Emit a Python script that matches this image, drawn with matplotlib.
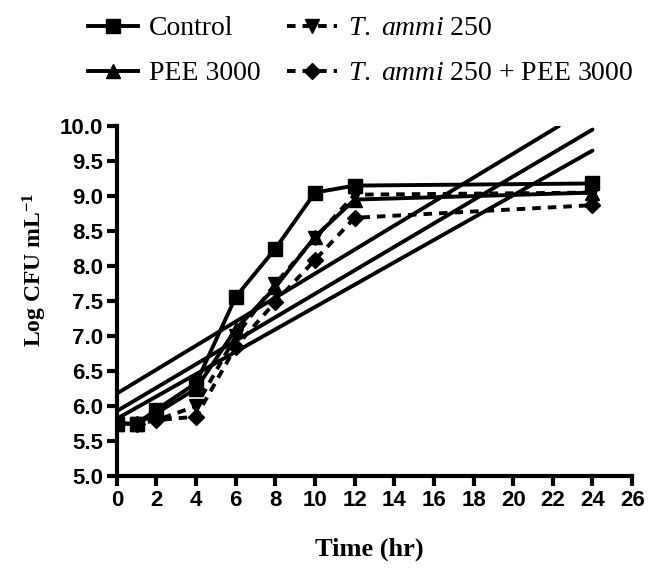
import matplotlib
matplotlib.use("Agg")
import matplotlib.pyplot as plt

plt.rcParams['mathtext.fontset'] = 'custom'
plt.rcParams['mathtext.rm'] = 'Liberation Serif'
plt.rcParams['mathtext.it'] = 'Liberation Serif:italic'
plt.rcParams['mathtext.bf'] = 'Liberation Serif:bold'

time_hr = [0, 1, 2, 4, 6, 8, 10, 12, 24]
control = [5.75, 5.75, 5.95, 6.33, 7.56, 8.25, 9.05, 9.15, 9.18]
pee_3000 = [5.75, 5.75, 5.9, 6.25, 7.1, 7.7, 8.42, 8.95, 9.05]
t_ammi_250 = [5.75, 5.75, 5.8, 6.0, 7.0, 7.75, 8.4, 9.02, 9.05]
t_ammi_pee = [5.75, 5.75, 5.8, 5.85, 6.85, 7.49, 8.09, 8.69, 8.87]

# straight fit lines: start time, end time, start value, end value
trend_t0 = [0, 0, 0]
trend_t1 = [22.3, 24, 24]
trend_v0 = [6.18, 5.93, 5.82]
trend_v1 = [10.0, 9.95, 9.65]

x_ticks = list(range(0, 27, 2))
y_ticks = [5.0, 5.5, 6.0, 6.5, 7.0, 7.5, 8.0, 8.5, 9.0, 9.5, 10.0]

fig = plt.figure(figsize=(6.64, 5.73), dpi=100)
ax = fig.add_axes([0.176, 0.169, 0.776, 0.611])

lw = 2.8
for a, b, c, d in zip(trend_t0, trend_t1, trend_v0, trend_v1):
    ax.plot([a, b], [c, d], color='black', lw=lw, solid_capstyle='round', zorder=2)

h1, = ax.plot(time_hr, control, color='black', lw=lw, marker='s', ms=10, label='Control', zorder=4)
h2, = ax.plot(time_hr, pee_3000, color='black', lw=lw, marker='^', ms=10, label='PEE 3000', zorder=3)
h3, = ax.plot(time_hr, t_ammi_250, color='black', lw=lw, ls=(0, (2.2, 1.8)), marker='v', ms=10,
              label=r'$\mathit{T.\ ammi}$ 250', zorder=3)
h4, = ax.plot(time_hr, t_ammi_pee, color='black', lw=lw, ls=(0, (2.2, 1.8)), marker='D', ms=8,
              label=r'$\mathit{T.\ ammi}$ 250 + PEE 3000', zorder=3)

ax.set_xlim(0, 26)
ax.set_ylim(5.0, 10.0)
ax.set_xticks(x_ticks)
ax.set_yticks(y_ticks)
ax.set_yticklabels([f'{v:.1f}' for v in y_ticks])
for s in ['top', 'right']:
    ax.spines[s].set_visible(False)
for s in ['left', 'bottom']:
    ax.spines[s].set_linewidth(3)
ax.tick_params(width=3, length=7, labelsize=16, pad=3)
for lab in ax.get_xticklabels() + ax.get_yticklabels():
    lab.set_fontfamily('Liberation Sans')
    lab.set_fontweight('bold')

ax.set_xlabel('Time (hr)', fontfamily='Liberation Serif', fontweight='bold', fontsize=19)
ax.xaxis.set_label_coords(0.49, -0.175)
ax.set_ylabel(r'Log CFU mL$^{\mathbf{-1}}$', fontfamily='Liberation Serif', fontweight='bold', fontsize=17)
ax.yaxis.set_label_coords(-0.132, 0.589)

fig.legend(handles=[h1, h2, h3, h4], ncol=2, loc='upper left', bbox_to_anchor=(0.132, 0.972),
           frameon=False, prop={'family': 'Liberation Serif', 'size': 20}, handlelength=1.8,
           columnspacing=0.95, handletextpad=0.4, labelspacing=0.7, borderpad=0, borderaxespad=0)

fig.savefig('out.png', dpi=100)
